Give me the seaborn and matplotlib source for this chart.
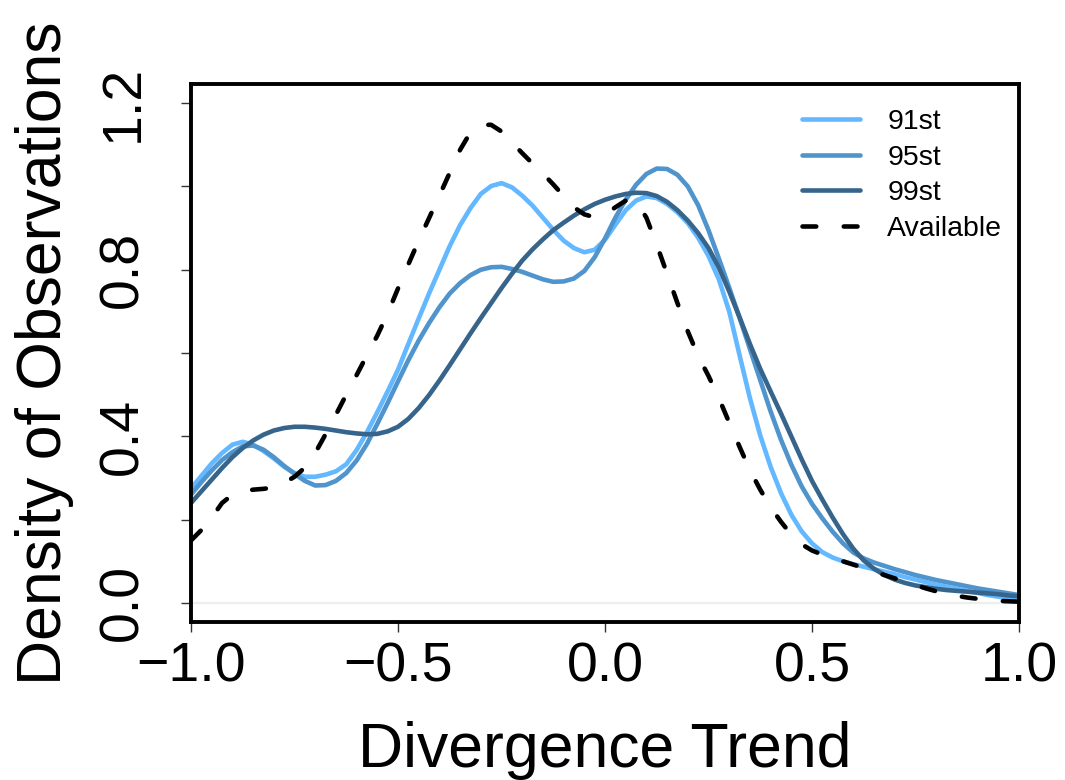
import numpy as np
import pandas as pd
import matplotlib
matplotlib.use("Agg")
import matplotlib.pyplot as plt
import seaborn as sns

sns.set_style("white")
plt.rcParams['font.family'] = ['Liberation Sans', 'DejaVu Sans']
plt.rcParams['text.color'] = 'black'
plt.rcParams['axes.labelcolor'] = 'black'
plt.rcParams['xtick.color'] = 'black'
plt.rcParams['ytick.color'] = 'black'

# ---- data ----
x_vals = [-1.000, -0.975, -0.950, -0.925, -0.900, -0.875, -0.850, -0.825, -0.800, -0.775,
          -0.750, -0.725, -0.700, -0.675, -0.650, -0.625, -0.600, -0.575, -0.550, -0.525,
          -0.500, -0.475, -0.450, -0.425, -0.400, -0.375, -0.350, -0.325, -0.300, -0.275,
          -0.250, -0.225, -0.200, -0.175, -0.150, -0.125, -0.100, -0.075, -0.050, -0.025,
          0.000, 0.025, 0.050, 0.075, 0.100, 0.125, 0.150, 0.175, 0.200, 0.225,
          0.250, 0.275, 0.300, 0.325, 0.350, 0.375, 0.400, 0.425, 0.450, 0.475,
          0.500, 0.525, 0.550, 0.575, 0.600, 0.625, 0.650, 0.675, 0.700, 0.725,
          0.750, 0.775, 0.800, 0.825, 0.850, 0.875, 0.900, 0.925, 0.950, 0.975, 1.000]

p91 = [0.275, 0.305, 0.335, 0.36, 0.38, 0.387, 0.38, 0.365, 0.347, 0.327,
       0.312, 0.303, 0.303, 0.308, 0.316, 0.333, 0.367, 0.41, 0.458, 0.508,
       0.56, 0.622, 0.683, 0.743, 0.80, 0.857, 0.907, 0.948, 0.982, 1.001,
       1.008, 0.998, 0.978, 0.954, 0.925, 0.896, 0.87, 0.852, 0.842, 0.848,
       0.872, 0.908, 0.943, 0.966, 0.976, 0.972, 0.958, 0.938, 0.912, 0.877,
       0.833, 0.777, 0.70, 0.595, 0.492, 0.402, 0.327, 0.264, 0.212, 0.172,
       0.143, 0.122, 0.109, 0.1, 0.093, 0.087, 0.081, 0.075, 0.069, 0.062,
       0.056, 0.05, 0.044, 0.039, 0.034, 0.029, 0.024, 0.019, 0.015, 0.011, 0.007]

p95 = [0.26, 0.29, 0.318, 0.343, 0.362, 0.376, 0.378, 0.368, 0.35, 0.329,
       0.31, 0.293, 0.282, 0.283, 0.293, 0.312, 0.342, 0.382, 0.43, 0.48,
       0.532, 0.583, 0.63, 0.672, 0.71, 0.743, 0.768, 0.787, 0.80, 0.806,
       0.807, 0.802, 0.795, 0.786, 0.777, 0.771, 0.772, 0.779, 0.797, 0.83,
       0.875, 0.925, 0.968, 1.004, 1.03, 1.043, 1.042, 1.028, 1.0, 0.955,
       0.895, 0.827, 0.757, 0.685, 0.61, 0.535, 0.46, 0.392, 0.332, 0.28,
       0.238, 0.203, 0.171, 0.143, 0.121, 0.107, 0.097, 0.089, 0.081, 0.074,
       0.067, 0.061, 0.055, 0.05, 0.045, 0.04, 0.035, 0.031, 0.027, 0.023, 0.019]

p99 = [0.24, 0.268, 0.296, 0.324, 0.35, 0.372, 0.39, 0.404, 0.414, 0.42,
       0.423, 0.423, 0.421, 0.418, 0.414, 0.41, 0.407, 0.405, 0.406, 0.412,
       0.423, 0.442, 0.468, 0.499, 0.534, 0.571, 0.609, 0.647, 0.684, 0.72,
       0.756, 0.79, 0.822, 0.849, 0.873, 0.895, 0.913, 0.93, 0.945, 0.958,
       0.968, 0.976, 0.982, 0.985, 0.984, 0.977, 0.963, 0.943, 0.918, 0.888,
       0.852, 0.805, 0.748, 0.686, 0.622, 0.562, 0.508, 0.455, 0.40, 0.345,
       0.293, 0.248, 0.205, 0.165, 0.13, 0.102, 0.082, 0.067, 0.056, 0.048,
       0.042, 0.038, 0.034, 0.031, 0.029, 0.027, 0.025, 0.023, 0.021, 0.018, 0.016]

available = [0.15, 0.175, 0.205, 0.24, 0.26, 0.268, 0.272, 0.274, 0.277, 0.288,
             0.303, 0.325, 0.36, 0.405, 0.452, 0.50, 0.547, 0.595, 0.642, 0.695,
             0.755, 0.813, 0.87, 0.924, 0.978, 1.033, 1.088, 1.13, 1.148, 1.148,
             1.132, 1.106, 1.08, 1.055, 1.031, 1.005, 0.977, 0.95, 0.933, 0.926,
             0.932, 0.95, 0.966, 0.966, 0.925, 0.86, 0.79, 0.72, 0.652, 0.593,
             0.545, 0.492, 0.433, 0.375, 0.319, 0.272, 0.23, 0.195, 0.164, 0.141,
             0.126, 0.116, 0.108, 0.1, 0.092, 0.084, 0.075, 0.067, 0.059, 0.051,
             0.043, 0.035, 0.028, 0.022, 0.017, 0.013, 0.01, 0.007, 0.005, 0.004, 0.003]

series_names = ["91st", "95st", "99st", "Available"]
series_colors = ["#63B8FF", "#4F94CD", "#36648B", "#000000"]
y_ticks = [0.0, 0.2, 0.4, 0.6, 0.8, 1.0, 1.2]
y_ticklabels = ["0.0", "", "0.4", "", "0.8", "", "1.2"]
x_ticks = [-1.0, -0.5, 0.0, 0.5, 1.0]
x_ticklabels = ["\u22121.0", "\u22120.5", "0.0", "0.5", "1.0"]

df = pd.DataFrame({"x": x_vals, "91st": p91, "95st": p95, "99st": p99,
                   "Available": available})

fig = plt.figure(figsize=(10.65, 7.8), dpi=100)
ax = fig.add_axes([191/1065, 1 - 621.7/780, (1019-191)/1065, (621.7-84)/780])

# light zero line
ax.axhline(0, color="#EEEEEE", lw=1.6, zorder=0)

LW = 3.3
for name, col in zip(series_names, series_colors):
    if name == "Available":
        sns.lineplot(data=df, x="x", y=name, ax=ax, color=col, lw=LW,
                     label=name, dashes=False, linestyle=(0, (3.0, 6.0)),
                     dash_capstyle="round", dash_joinstyle="round")
    else:
        sns.lineplot(data=df, x="x", y=name, ax=ax, color=col, lw=LW,
                     label=name, solid_capstyle="round", solid_joinstyle="round")

ax.set_xlim(-1, 1)
ax.set_ylim(-0.045, 1.246)
ax.set_xticks(x_ticks)
ax.set_xticklabels(x_ticklabels)
ax.set_yticks(y_ticks)
ax.set_yticklabels(y_ticklabels)
ax.tick_params(axis="both", direction="out", length=7, width=1.0, color="#333333",
               bottom=True, left=True)
ax.tick_params(axis="x", labelsize=40, pad=7)
ax.tick_params(axis="y", labelsize=40, pad=23, labelrotation=90)
for lab in ax.get_yticklabels():
    lab.set_va("center")

for sp in ax.spines.values():
    sp.set_linewidth(2.8)
    sp.set_color("black")

ax.set_xlabel("Divergence Trend", fontsize=45)
ax.set_ylabel("Density of Observations", fontsize=45)
ax.xaxis.set_label_coords(0.5, -0.1847)
ax.yaxis.set_label_coords(-0.1415, 0.5)

leg = ax.legend(loc="upper left", bbox_to_anchor=(802/1065, 1 - 109/780),
                bbox_transform=fig.transFigure, frameon=False, fontsize=20.5,
                handlelength=2.04, handletextpad=0.95, labelspacing=0.34,
                borderpad=0, borderaxespad=0)

fig.savefig("out.png", dpi=100)
